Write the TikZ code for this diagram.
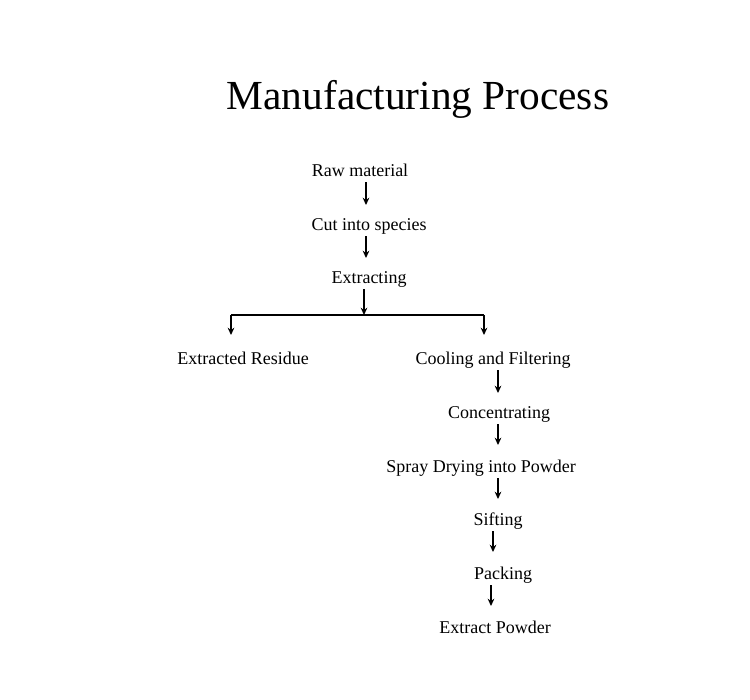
\documentclass[tikz,border=0pt]{standalone}
\usepackage{fontspec}
\setmainfont{Liberation Serif}
\usetikzlibrary{arrows.meta,calc}
\begin{document}
\begin{tikzpicture}[x=0.75pt,y=-0.75pt,
  lbl/.style={inner sep=0pt,font=\fontsize{13.5}{16}\selectfont,text height=0.7em,text depth=0.2em},
  arr/.style={line width=0.85pt,-{Stealth[length=5.5pt,width=5pt]}},
  ln/.style={line width=0.85pt}]
\useasboundingbox (0,0) rectangle (750,700);
\fill[white] (0,0) rectangle (750,700);
\node[inner sep=0pt,font=\fontsize{31}{36}\selectfont] (title) at (418,99) {Manufacturing Process};
\node[lbl] (raw) at (360,173) {Raw material};
\node[lbl] (cut) at (369,227) {Cut into species};
\node[lbl] (ext) at (369,280) {Extracting};
\node[lbl] (res) at (243,361) {Extracted Residue};
\node[lbl] (cool) at (493,361) {Cooling and Filtering};
\node[lbl] (conc) at (499,415) {Concentrating};
\node[lbl] (spray) at (481,469) {Spray Drying into Powder};
\node[lbl] (sift) at (498,522) {Sifting};
\node[lbl] (pack) at (503,576) {Packing};
\node[lbl] (powder) at (495,630) {Extract Powder};
\coordinate (split) at (364,315);
\coordinate (lcorner) at (231,315);
\coordinate (rcorner) at (484,315);
\draw[arr] ($(raw)+(6,9)$) -- ($(cut)+(-3,-22)$);
\draw[arr] ($(cut)+(-3,9)$) -- ($(ext)+(-3,-22)$);
\draw[arr] ($(ext)+(-5,9)$) -- (split);
\draw[ln] (lcorner) -- (rcorner);
\draw[arr] (lcorner) -- ($(res)+(-12,-26)$);
\draw[arr] (rcorner) -- ($(cool)+(-9,-26)$);
\draw[arr] ($(cool)+(5,9)$) -- ($(conc)+(-1,-22)$);
\draw[arr] ($(conc)+(-1,9)$) -- ($(spray)+(17,-24)$);
\draw[arr] ($(spray)+(17,9)$) -- ($(sift)+(0,-23)$);
\draw[arr] ($(sift)+(-5,9)$) -- ($(pack)+(-10,-24)$);
\draw[arr] ($(pack)+(-12,9)$) -- ($(powder)+(-4,-24)$);
\end{tikzpicture}
\end{document}
